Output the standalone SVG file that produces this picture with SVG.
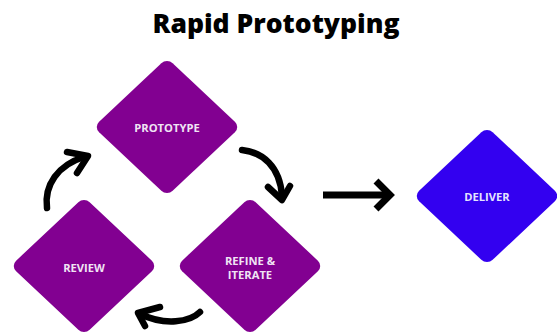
<svg xmlns="http://www.w3.org/2000/svg" width="557" height="333" viewBox="0 0 557 333">
<style>
.title{font-family:"Open Sans","Liberation Sans",sans-serif;font-weight:800;font-size:26.5px;fill:#000}
.lbl{font-family:"Open Sans","Liberation Sans",sans-serif;font-weight:700;font-size:11.2px;fill:#f0e4f4;text-anchor:middle}
.p{fill:#820091}
.b{fill:#3300f0}
.arr{fill:none;stroke:#000;stroke-width:6.5;stroke-linecap:round;stroke-linejoin:round}
.arrs{fill:none;stroke:#000;stroke-width:7;stroke-linejoin:miter}
</style>
<rect width="557" height="333" fill="#fff"/>
<text class="title" x="276" y="33" text-anchor="middle">Rapid Prototyping</text>
<g id="prototype">
<rect class="p" x="-52" y="-52" width="104" height="104" rx="8" transform="translate(167,127) scale(1,0.94) rotate(45)"/>
<text class="lbl" x="167" y="132">PROTOTYPE</text>
</g>
<g id="refine">
<rect class="p" x="-52" y="-52" width="104" height="104" rx="8" transform="translate(250,266) scale(1,0.94) rotate(45)"/>
<text class="lbl" x="250" y="265">REFINE &amp;</text>
<text class="lbl" x="250" y="279">ITERATE</text>
</g>
<g id="review">
<rect class="p" x="-52" y="-52" width="104" height="104" rx="8" transform="translate(84,266) scale(1,0.94) rotate(45)"/>
<text class="lbl" x="84" y="272">REVIEW</text>
</g>
<g id="deliver">
<rect class="b" x="-52" y="-52" width="104" height="104" rx="8" transform="translate(487,196) scale(1,0.94) rotate(45)"/>
<text class="lbl" x="487" y="201" style="fill:#e4e4ff">DELIVER</text>
</g>
<g id="connectors">
<path class="arr" d="M47,208 C44,185 58,165 84,157"/>
<path class="arr" d="M67,152 L88,156 L77,173"/>
<path class="arr" d="M242,150 C262,152 280,166 282,196"/>
<path class="arr" d="M268,187 L282,200 L290,186"/>
<path class="arr" d="M200,312 C190,322 165,326 140,314"/>
<path class="arr" d="M160,307 L138,313 L145,326"/>
<line class="arrs" x1="323" y1="195" x2="389" y2="195"/>
<path class="arrs" d="M376,181 L390,195 L376,209"/>
</g>
</svg>
